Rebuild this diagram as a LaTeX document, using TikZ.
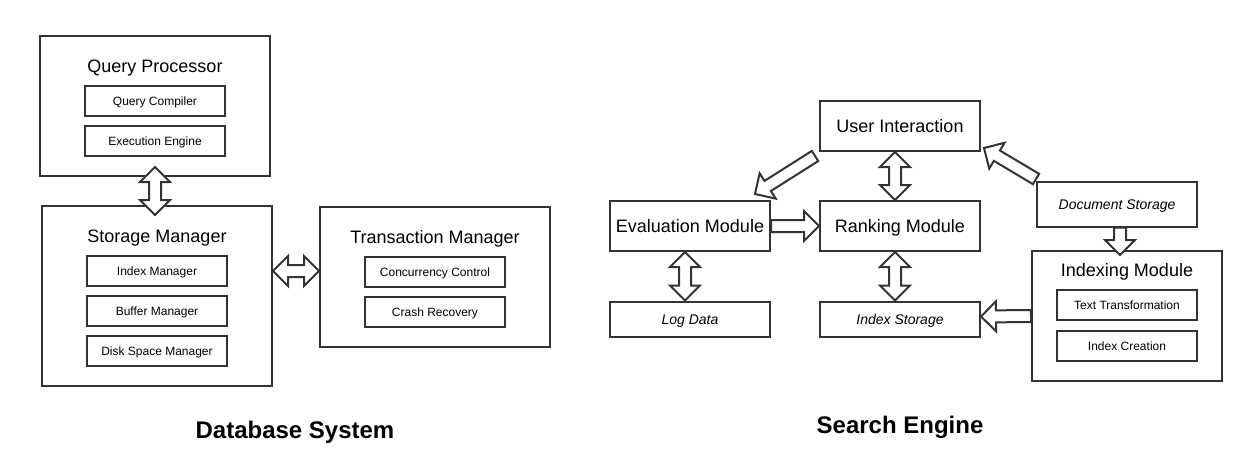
\documentclass[tikz,border=0pt]{standalone}
\usepackage{fontspec}
\setmainfont{Liberation Sans}
\usetikzlibrary{calc}
\definecolor{ln}{HTML}{333333}
\tikzset{x=1pt,y=-1pt,
  bx/.style={draw=ln,line width=2pt,inner sep=0pt,fill=white,text=black},
  outerbox/.style={bx,minimum width=230pt,minimum height=140pt},
  innerbox/.style={bx,minimum width=140pt,minimum height=30pt,font=\fontsize{12}{14}\selectfont,text height=8.6pt,text depth=0pt},
  modbox/.style={bx,minimum width=160pt,minimum height=50pt,font=\fontsize{18}{22}\selectfont,text height=12.9pt,text depth=0pt},
  storebox/.style={bx,minimum width=160pt,minimum height=35pt,font=\fontsize{14}{17}\selectfont\itshape,text height=10pt,text depth=0pt},
  ttl/.style={font=\fontsize{18}{22}\selectfont,inner sep=0pt,text height=12.9pt,text depth=0pt},
  bigttl/.style={font=\fontsize{24}{29}\selectfont\bfseries,inner sep=0pt,text height=17.2pt,text depth=0pt},
  fat/.style={draw=ln,line width=2pt,fill=white,line join=miter}}
\newcommand\fatone[2]{%
  \coordinate (fa1) at ($(#2)!15pt!(#1)$);
  \draw[fat] ($(#1)!6pt!90:(#2)$) -- ($(fa1)!6pt!90:(#2)$) -- ($(fa1)!15pt!90:(#2)$) -- (#2)
    -- ($(fa1)!15pt!-90:(#2)$) -- ($(fa1)!6pt!-90:(#2)$) -- ($(#1)!6pt!-90:(#2)$) -- cycle;}
\newcommand\fattwo[2]{%
  \coordinate (fa1) at ($(#2)!15pt!(#1)$);
  \coordinate (fa2) at ($(#1)!15pt!(#2)$);
  \draw[fat] ($(fa2)!6pt!-90:(#1)$) -- ($(fa1)!6pt!90:(#2)$) -- ($(fa1)!15pt!90:(#2)$) -- (#2)
    -- ($(fa1)!15pt!-90:(#2)$) -- ($(fa1)!6pt!-90:(#2)$) -- ($(fa2)!6pt!90:(#1)$)
    -- ($(fa2)!15pt!90:(#1)$) -- (#1) -- ($(fa2)!15pt!-90:(#1)$) -- cycle;}
\begin{document}
\begin{tikzpicture}
\useasboundingbox (0,0) rectangle (1242,463);
% Database system
\node[outerbox] (qp) at (155,106) {};
\node[ttl] (qpt) at (155,66) {Query Processor};
\node[innerbox] (qc) at (155,101) {Query Compiler};
\node[innerbox] (ee) at (155,141) {Execution Engine};
\node[outerbox,minimum height=180pt] (sm) at (157,296) {};
\node[ttl] (smt) at (157,236) {Storage Manager};
\node[innerbox] (ixm) at (157,271) {Index Manager};
\node[innerbox] (bm) at (157,311) {Buffer Manager};
\node[innerbox] (dsm) at (157,351) {Disk Space Manager};
\node[outerbox] (tm) at (435,277) {};
\node[ttl] (tmt) at (435,237) {Transaction Manager};
\node[innerbox] (cc) at (435,272) {Concurrency Control};
\node[innerbox] (cr) at (435,312) {Crash Recovery};
\node[bigttl] (dbs) at (295,430) {Database System};
\fattwo{$(qp.south)+(0,-10)$}{$(sm.north)+(-2,10)$}
\fattwo{[yshift=25pt]sm.east}{[yshift=6pt]tm.west}
% Search engine
\node[modbox] (ui) at (900,126) {User Interaction};
\node[modbox] (ev) at (690,226) {Evaluation Module};
\node[modbox] (rk) at (900,226) {Ranking Module};
\node[storebox,minimum height=45pt] (ds) at (1117,204) {Document Storage};
\node[storebox] (log) at (690,319) {Log Data};
\node[storebox] (is) at (900,319) {Index Storage};
\node[bx,minimum width=190pt,minimum height=130pt] (im) at (1127,316) {};
\node[ttl] (imt) at (1127,270) {Indexing Module};
\node[innerbox] (tt) at (1127,305) {Text Transformation};
\node[innerbox] (ic) at (1127,346) {Index Creation};
\node[bigttl] (se) at (900,425) {Search Engine};
\fattwo{[xshift=-5pt]ui.south}{[xshift=-5pt]rk.north}
\fatone{ev.east}{rk.west}
\fattwo{[xshift=-5pt]ev.south}{[xshift=-5pt]log.north}
\fattwo{[xshift=-5pt]rk.south}{[xshift=-5pt]is.north}
\fatone{im.west}{[yshift=2.5pt]is.east}
\fatone{[xshift=3pt]ds.south}{[xshift=-7pt,yshift=-5pt]im.north}
\coordinate (uitail) at (815,156);
\coordinate (evtip) at (755,194);
\fatone{uitail}{evtip}
\coordinate (dstail) at (1036,179);
\coordinate (uitip) at (984,148);
\fatone{dstail}{uitip}
\end{tikzpicture}
\end{document}
